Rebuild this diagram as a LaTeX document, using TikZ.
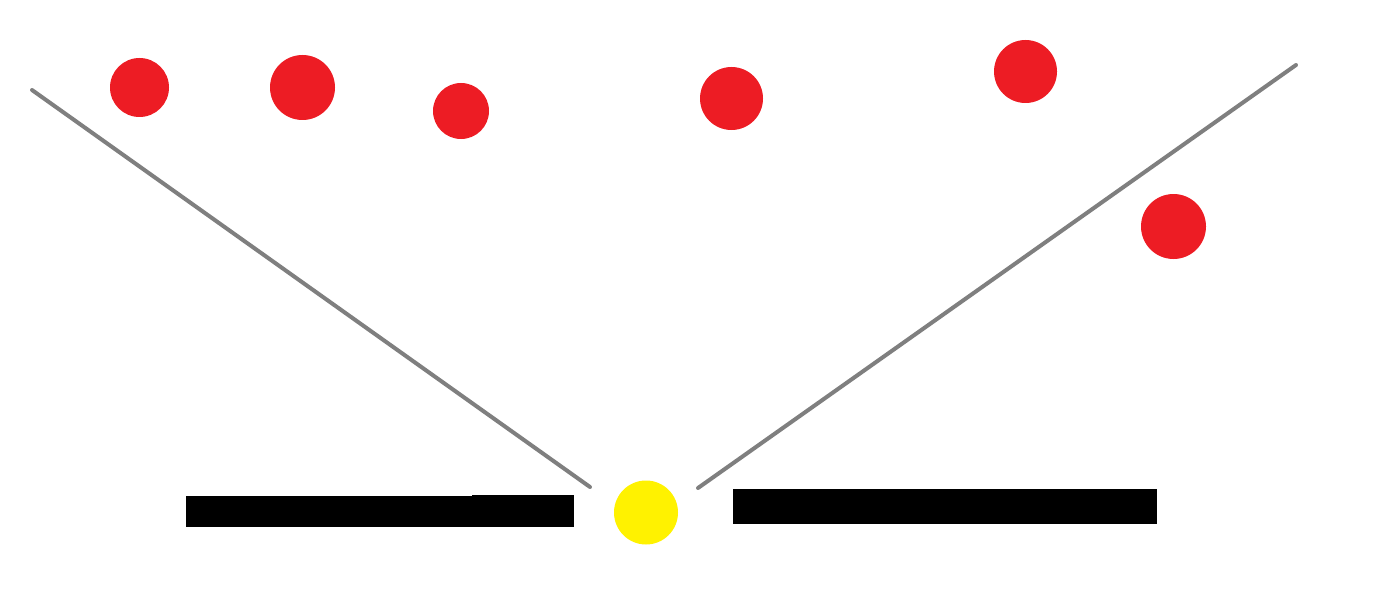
\documentclass[tikz,border=0pt]{standalone}
\usepackage{tikz}

\definecolor{ballred}{HTML}{ED1C24}
\definecolor{sunyellow}{HTML}{FFF200}
\definecolor{beamgray}{HTML}{7F7F7F}

\begin{document}
\begin{tikzpicture}[ x=0.02cm, y=-0.02cm ]

	\def\px{0.02cm}

	\useasboundingbox (0, 0) rectangle (1382, 598);

	% red balls
	\foreach \bx/\by/\br in {139.5/87.5/29.5, 302.5/87.5/32.5, 461/111/28, 731.5/98.5/31.5, 1025.5/71.5/31.5, 1173.5/226.5/32.5} {
		\fill[ ballred ] (\bx, \by) circle [ radius=\br*\px ];
	}

	% cone edges
	\draw[ beamgray, line width=4*\px, line cap=round ] (32, 90) -- (590, 487);
	\draw[ beamgray, line width=4*\px, line cap=round ] (698, 488) -- (1296, 65);

	% plates
	\fill (186, 496) rectangle (574, 527);
	\fill (472, 495) rectangle (574, 497);
	\fill (733, 489) rectangle (1157, 524);

	% source
	\fill[ sunyellow ] (646, 512.5) circle [ radius=32*\px ];

\end{tikzpicture}
\end{document}
